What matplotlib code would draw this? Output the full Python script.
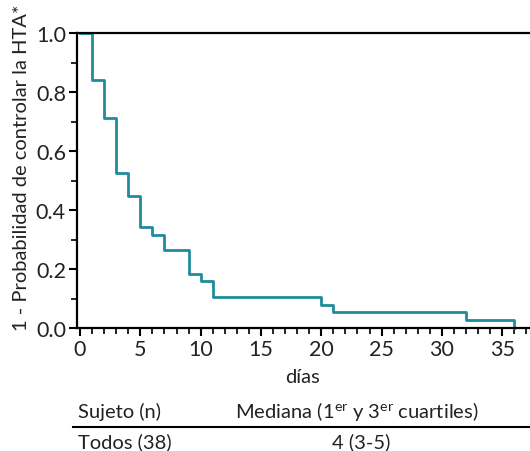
import matplotlib
matplotlib.use("Agg")
import matplotlib.pyplot as plt
from matplotlib.ticker import MultipleLocator

plt.rcParams["font.family"] = ["Lato", "DejaVu Sans"]
plt.rcParams["mathtext.fontset"] = "custom"
plt.rcParams["mathtext.rm"] = "Lato"
plt.rcParams["mathtext.it"] = "Lato:italic"

# tiempos de los escalones (días) y valor de la curva tras cada escalón
dias = [0, 1, 2, 3, 4, 5, 6, 7, 9, 10, 11, 20, 21, 32, 36]
surv = [1.0, 0.842, 0.711, 0.526, 0.447, 0.342, 0.316, 0.263, 0.184, 0.158,
        0.105, 0.079, 0.053, 0.026, 0.0]

tabla_cab = ["Sujeto (n)", "Mediana (1$^{\\mathrm{er}}$ y 3$^{\\mathrm{er}}$ cuartiles)"]
tabla_fila = ["Todos (38)", "4 (3-5)"]

W, H = 530, 452
FS = 14.5
TXT = "#222222"
fig = plt.figure(figsize=(W / 100, H / 100), dpi=100, facecolor="white")
ax = fig.add_axes([77 / W, 1 - 329 / H, (W - 77) / W, (329 - 34) / H])

ax.step(dias, surv, where="post", color="#1f8b9b", lw=2.0, zorder=2, clip_on=False)

ax.set_xlim(-0.25, 37.3)
ax.set_ylim(0, 1.0)
ax.xaxis.set_major_locator(MultipleLocator(5))
ax.xaxis.set_minor_locator(MultipleLocator(1))
ax.yaxis.set_major_locator(MultipleLocator(0.2))
ax.yaxis.set_minor_locator(MultipleLocator(0.1))
ax.yaxis.set_major_formatter(matplotlib.ticker.FormatStrFormatter("%.1f"))

for s in ("left", "bottom", "top"):
    ax.spines[s].set_linewidth(1.6)
    ax.spines[s].set_zorder(3)
ax.spines["right"].set_visible(False)

ax.tick_params(which="major", direction="out", length=6, width=1.5,
               labelsize=15.5, labelcolor=TXT, pad=2)
ax.tick_params(which="minor", direction="out", length=4, width=1.2)
ax.tick_params(axis="x", which="both", top=False)
ax.tick_params(axis="y", which="both", right=False)

fig.text(22 / W, 1 - 168 / H, "1 - Probabilidad de controlar la HTA*",
         rotation=90, ha="center", va="center", fontsize=FS, color=TXT)
fig.text(303 / W, 1 - 378 / H, "días", ha="center", va="center",
         fontsize=FS, color=TXT)

# tabla al pie
fig.text(78 / W, 1 - 412 / H, tabla_cab[0], ha="left", va="center",
         fontsize=FS, color=TXT)
fig.text(357 / W, 1 - 412 / H, tabla_cab[1], ha="center", va="center",
         fontsize=FS, color=TXT)
fig.add_artist(plt.Line2D([73 / W, 1.0], [1 - 428 / H, 1 - 428 / H],
                          transform=fig.transFigure, color="black", lw=1.5))
fig.text(78 / W, 1 - 442 / H, tabla_fila[0], ha="left", va="center",
         fontsize=FS, color=TXT)
fig.text(361 / W, 1 - 442 / H, tabla_fila[1], ha="center", va="center",
         fontsize=FS, color=TXT)

fig.savefig("out.png", dpi=100, facecolor="white")
